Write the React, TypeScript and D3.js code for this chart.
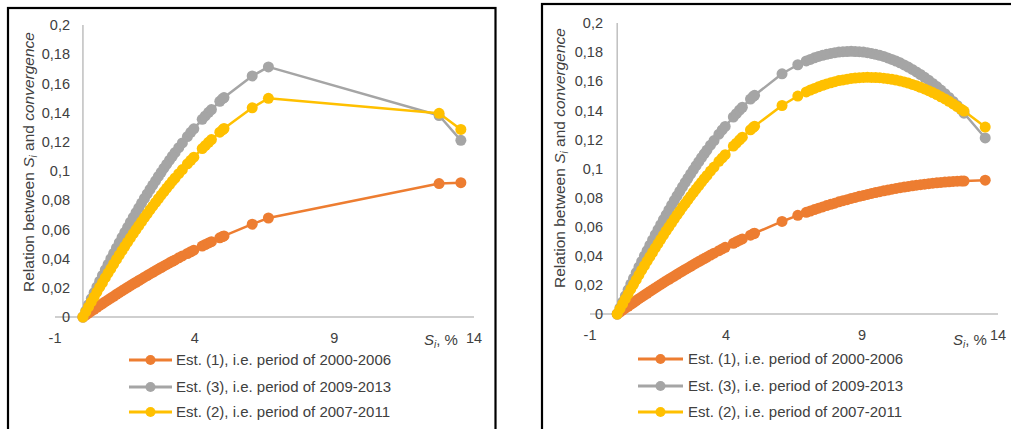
import React from 'react';
import * as d3 from 'd3';

// S_i values (%) observed in the first sample
const sLeft = [
  0, 0.1, 0.2, 0.3, 0.4, 0.5, 0.6, 0.7, 0.8, 0.9, 1.0, 1.1, 1.2, 1.3, 1.4, 1.5, 1.6, 1.7, 1.8, 1.9,
  2.0, 2.1, 2.2, 2.3, 2.4, 2.5, 2.6, 2.7, 2.8, 2.9, 3.0, 3.1, 3.2, 3.3, 3.43, 3.56, 3.74, 3.86, 3.97,
  4.27, 4.38, 4.5, 4.6, 4.9, 5.0, 5.05, 6.06, 6.64, 12.75, 13.53,
];
// Est. (1), 2000-2006
const est1Left = [
  0, 0.0013, 0.0027, 0.004, 0.0053, 0.0066, 0.0079, 0.0092, 0.0105, 0.0117, 0.013, 0.0142, 0.0155,
  0.0167, 0.0179, 0.0191, 0.0203, 0.0215, 0.0227, 0.0238, 0.025, 0.0261, 0.0273, 0.0284, 0.0295,
  0.0306, 0.0317, 0.0328, 0.0339, 0.035, 0.036, 0.0371, 0.0381, 0.0391, 0.0405, 0.0418, 0.0435,
  0.0447, 0.0458, 0.0486, 0.0496, 0.0507, 0.0516, 0.0542, 0.0551, 0.0555, 0.0636, 0.0678, 0.0914, 0.092,
];
// Est. (3), 2009-2013
const est3Left = [
  0, 0.0042, 0.0084, 0.0125, 0.0166, 0.0206, 0.0245, 0.0285, 0.0323, 0.0361, 0.0399, 0.0436, 0.0473,
  0.0509, 0.0545, 0.058, 0.0614, 0.0649, 0.0682, 0.0715, 0.0748, 0.078, 0.0812, 0.0843, 0.0874,
  0.0904, 0.0933, 0.0963, 0.0991, 0.1019, 0.1047, 0.1074, 0.1101, 0.1127, 0.116, 0.1192, 0.1236,
  0.1265, 0.1289, 0.1354, 0.1377, 0.1402, 0.1421, 0.1477, 0.1495, 0.1503, 0.1651, 0.1713, 0.138, 0.121,
];
// Est. (2), 2007-2011
const est2Left = [
  0, 0.0035, 0.0069, 0.0104, 0.0137, 0.0171, 0.0204, 0.0236, 0.0269, 0.0301, 0.0332, 0.0363, 0.0394,
  0.0424, 0.0454, 0.0484, 0.0513, 0.0542, 0.0571, 0.0599, 0.0626, 0.0654, 0.0681, 0.0707, 0.0734,
  0.0759, 0.0785, 0.081, 0.0835, 0.0859, 0.0883, 0.0906, 0.093, 0.0952, 0.0982, 0.101, 0.1049,
  0.1073, 0.1095, 0.1154, 0.1174, 0.1197, 0.1215, 0.1266, 0.1282, 0.1291, 0.1433, 0.1498, 0.1395, 0.1285,
];

// Additional S_i values covered in the second panel
const sFill = [
  6.95, 7.1, 7.25, 7.4, 7.55, 7.7, 7.85, 8.0, 8.15, 8.3, 8.45, 8.6, 8.75, 8.9, 9.05, 9.2, 9.35, 9.5,
  9.65, 9.8, 9.95, 10.1, 10.25, 10.4, 10.55, 10.7, 10.85, 11.0, 11.15, 11.3, 11.45, 11.6, 11.75, 11.9,
  12.05, 12.2, 12.35, 12.5, 12.65,
];
const est1Fill = [
  0.0699, 0.0708, 0.0718, 0.0727, 0.0736, 0.0745, 0.0754, 0.0762, 0.0771, 0.0779, 0.0786, 0.0794,
  0.0801, 0.0809, 0.0815, 0.0822, 0.0829, 0.0835, 0.0841, 0.0847, 0.0852, 0.0858, 0.0863, 0.0868,
  0.0872, 0.0877, 0.0881, 0.0885, 0.0889, 0.0892, 0.0896, 0.0899, 0.0902, 0.0904, 0.0907, 0.0909,
  0.0911, 0.0913, 0.0914,
];
const est3Fill = [
  0.1739, 0.175, 0.1761, 0.177, 0.1778, 0.1785, 0.1791, 0.1796, 0.18, 0.1803, 0.1804, 0.1805, 0.1804,
  0.1803, 0.18, 0.1796, 0.1791, 0.1785, 0.1778, 0.177, 0.176, 0.175, 0.1738, 0.1726, 0.1712, 0.1697,
  0.1681, 0.1664, 0.1646, 0.1627, 0.1607, 0.1585, 0.1563, 0.1539, 0.1514, 0.1488, 0.1461, 0.1433, 0.1404,
];
const est2Fill = [
  0.1526, 0.1539, 0.155, 0.1561, 0.1572, 0.1581, 0.1589, 0.1597, 0.1604, 0.1609, 0.1614, 0.1619,
  0.1622, 0.1624, 0.1626, 0.1627, 0.1626, 0.1625, 0.1624, 0.1621, 0.1617, 0.1613, 0.1608, 0.1602,
  0.1595, 0.1587, 0.1578, 0.1569, 0.1558, 0.1547, 0.1535, 0.1522, 0.1508, 0.1493, 0.1478, 0.1462,
  0.1444, 0.1426, 0.1407,
];

const xTicks = [-1, 4, 9, 14];
const yTicks = [0, 0.02, 0.04, 0.06, 0.08, 0.1, 0.12, 0.14, 0.16, 0.18, 0.2];
const yTickLabels = ['0', '0,02', '0,04', '0,06', '0,08', '0,1', '0,12', '0,14', '0,16', '0,18', '0,2'];
const seriesNames = [
  'Est. (1), i.e. period of 2000-2006',
  'Est. (3), i.e. period of 2009-2013',
  'Est. (2), i.e. period of 2007-2011',
];
const seriesColors = ['#ED7D31', '#A5A5A5', '#FFC000'];

type Pt = [number, number];
type Series = { name: string; color: string; points: Pt[] };

const zip = (xs: number[], ys: number[]): Pt[] => xs.map((x, i) => [x, ys[i]] as Pt);
const merged = (a: number[], b: number[]): Pt[] =>
  d3.sort([...zip(sLeft, a), ...zip(sFill, b)], (d) => d[0]);

const leftSeries: Series[] = [
  { name: seriesNames[0], color: seriesColors[0], points: zip(sLeft, est1Left) },
  { name: seriesNames[1], color: seriesColors[1], points: zip(sLeft, est3Left) },
  { name: seriesNames[2], color: seriesColors[2], points: zip(sLeft, est2Left) },
];
const rightSeries: Series[] = [
  { name: seriesNames[0], color: seriesColors[0], points: merged(est1Left, est1Fill) },
  { name: seriesNames[1], color: seriesColors[1], points: merged(est3Left, est3Fill) },
  { name: seriesNames[2], color: seriesColors[2], points: merged(est2Left, est2Fill) },
];

const FONT = "'Liberation Sans', Arial, sans-serif";
const TEXT = '#404040';
const AXIS = '#BFBFBF';

type Layout = {
  frame: { x: number; y: number; w: number; h: number };
  xRange: [number, number];
  yRange: [number, number];
  yLabelRight: number;
  xLabelBaseline: number;
  title: { x: number; y: number };
  sLabel: { x: number; y: number };
  legend: { x0: number; x1: number; textX: number; rows: number[] };
};

function Panel({ layout, series }: { layout: Layout; series: Series[] }) {
  const x = d3.scaleLinear().domain([-1, 14]).range(layout.xRange);
  const y = d3.scaleLinear().domain([0, 0.2]).range(layout.yRange);
  const line = d3
    .line<Pt>()
    .x((d) => x(d[0]))
    .y((d) => y(d[1]));
  const x0 = x(0);
  const { legend } = layout;

  return (
    <g fontFamily={FONT}>
      <rect
        x={layout.frame.x}
        y={layout.frame.y}
        width={layout.frame.w}
        height={layout.frame.h}
        fill="#fff"
        stroke="#000"
        strokeWidth={2.2}
      />
      {/* axes */}
      <line x1={layout.xRange[0]} x2={layout.xRange[1]} y1={y(0)} y2={y(0)} stroke={AXIS} strokeWidth={1.5} />
      <line x1={x0} x2={x0} y1={y(0)} y2={y(0.2)} stroke={AXIS} strokeWidth={1.5} />
      {yTicks.map((t, i) => (
        <text
          key={`y${i}`}
          x={layout.yLabelRight}
          y={y(t)}
          dy="0.36em"
          textAnchor="end"
          fontSize={14.5}
          fill={TEXT}
        >
          {yTickLabels[i]}
        </text>
      ))}
      {xTicks.map((t) => (
        <text key={`x${t}`} x={x(t)} y={layout.xLabelBaseline} textAnchor="middle" fontSize={14.5} fill={TEXT}>
          {t}
        </text>
      ))}
      <text x={layout.sLabel.x} y={layout.sLabel.y} fontSize={15} fill={TEXT}>
        <tspan fontStyle="italic">S</tspan>
        <tspan fontStyle="italic" fontSize={10} dy={3}>
          i
        </tspan>
        <tspan dy={-3}>, %</tspan>
      </text>
      <text
        transform={`translate(${layout.title.x},${layout.title.y}) rotate(-90)`}
        textAnchor="middle"
        dy="0.36em"
        fontSize={15.5}
        fill={TEXT}
      >
        Relation between <tspan fontStyle="italic">S</tspan>
        <tspan fontStyle="italic" fontSize={10} dy={3}>
          i
        </tspan>
        <tspan dy={-3}> and </tspan>
        <tspan fontStyle="italic">convergence</tspan>
      </text>
      {/* series: connecting line, then a filled marker on every point */}
      {series.map((s) => (
        <g key={s.name}>
          <path d={line(s.points) ?? ''} fill="none" stroke={s.color} strokeWidth={2.5} strokeLinejoin="round" />
          {s.points.map((p, i) => (
            <circle key={i} cx={x(p[0])} cy={y(p[1])} r={5.5} fill={s.color} />
          ))}
        </g>
      ))}
      {/* legend */}
      {series.map((s, i) => (
        <g key={`lg${i}`}>
          <line
            x1={legend.x0}
            x2={legend.x1}
            y1={legend.rows[i]}
            y2={legend.rows[i]}
            stroke={s.color}
            strokeWidth={3}
          />
          <circle cx={(legend.x0 + legend.x1) / 2} cy={legend.rows[i]} r={5} fill={s.color} />
          <text x={legend.textX} y={legend.rows[i]} dy="0.36em" fontSize={15} fill={TEXT}>
            {s.name}
          </text>
        </g>
      ))}
    </g>
  );
}

const leftLayout: Layout = {
  frame: { x: 8, y: 8, w: 487.5, h: 500 },
  xRange: [55, 474],
  yRange: [317, 25],
  yLabelRight: 70,
  xLabelBaseline: 343,
  title: { x: 28.5, y: 162 },
  sLabel: { x: 424, y: 345 },
  legend: { x0: 129, x1: 172, textX: 176, rows: [360, 387, 412] },
};

const rightLayout: Layout = {
  frame: { x: 542, y: 4, w: 600, h: 500 },
  xRange: [590, 998],
  yRange: [314, 23],
  yLabelRight: 603,
  xLabelBaseline: 340,
  title: { x: 559, y: 158 },
  sLabel: { x: 953, y: 345 },
  legend: { x0: 638, x1: 683, textX: 688, rows: [359, 386, 412] },
};

export default function App() {
  return (
    <svg
      width={1011}
      height={429}
      viewBox="0 0 1011 429"
      style={{ position: 'absolute', left: 0, top: 0, background: '#fff' }}
    >
      <rect width={1011} height={429} fill="#fff" />
      <Panel layout={leftLayout} series={leftSeries} />
      <Panel layout={rightLayout} series={rightSeries} />
    </svg>
  );
}
